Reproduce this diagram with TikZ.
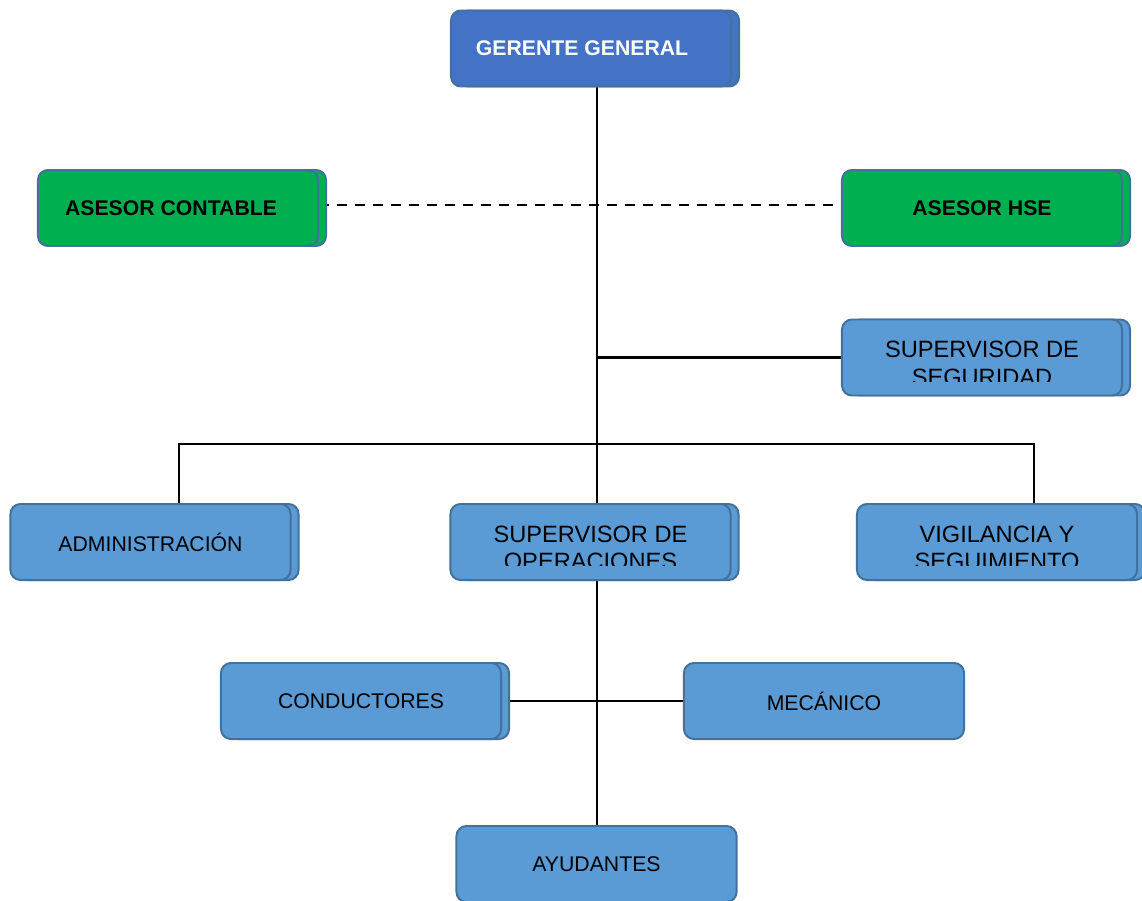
\documentclass[tikz,border=0pt]{standalone}
\usepackage{fontspec}
\setmainfont{Liberation Sans}
\usetikzlibrary{positioning,calc,shadows,backgrounds}
\definecolor{azulgg}{RGB}{68,114,196}
\definecolor{azulcl}{RGB}{91,155,213}
\definecolor{verdeas}{RGB}{0,176,80}
\definecolor{bordeaz}{RGB}{65,113,156}

\begin{document}
\begin{tikzpicture}[
  x=0.025cm, y=-0.025cm,
  cargo/.style={rectangle, rounded corners=0.25cm, draw=bordeaz, line width=1.4pt, fill=azulcl,
                minimum width=7cm, minimum height=1.9cm, inner sep=0pt,
                font=\fontsize{15.1}{17}\selectfont},
  doble/.style={copy shadow={shadow xshift=0.2cm, shadow yshift=0cm}},
  asesor/.style={fill=verdeas, font=\fontsize{15.1}{18}\selectfont\bfseries},
  dosl/.style={align=center, anchor=base, inner sep=0pt, font=\fontsize{16.8}{19.6}\selectfont},
  linea/.style={black, line width=1.5pt},
  punteada/.style={linea, dash pattern=on 0.25cm off 0.2cm}
]
  \useasboundingbox (0,0) rectangle (1142,900);

  % Gerencia y asesores
  \node[cargo, doble, fill=azulgg, text=white, font=\fontsize{15.1}{18}\selectfont\bfseries]
    (gerente) at (591,48.5) {GERENTE GENERAL\hspace*{0.45cm}};
  \node[cargo, doble, asesor] (contable) at (178,208) {ASESOR CONTABLE\hspace*{0.35cm}};
  \node[cargo, doble, asesor] (hse) at (982,208) {ASESOR HSE};

  % Segundo nivel
  \node[cargo, doble] (seguridad) at (982,357.5) {};
  \node[cargo, doble] (admin) at (150.5,542) {ADMINISTRACIÓN};
  \node[cargo, doble] (operaciones) at (590.5,542) {};
  \node[cargo, doble] (vigilancia) at (997,542) {};

  % Personal de operaciones
  \node[cargo, doble] (conductores) at (361,701) {CONDUCTORES};
  \node[cargo] (mecanico) at (824,701) {MECÁNICO};
  \node[cargo] (ayudantes) at (596.5,864) {AYUDANTES};

  % Textos cortados
  \begin{scope}
    \clip (seguridad.north west) rectangle ([yshift=0.375cm]seguridad.south east);
    \node[dosl] (seguridad-txt) at ([yshift=-19.6pt]seguridad.center) {SUPERVISOR DE\\SEGURIDAD};
  \end{scope}
  \begin{scope}
    \clip (operaciones.north west) rectangle ([yshift=0.375cm]operaciones.south east);
    \node[dosl] (operaciones-txt) at ([yshift=-19.6pt]operaciones.center) {SUPERVISOR DE\\OPERACIONES};
  \end{scope}
  \begin{scope}
    \clip (vigilancia.north west) rectangle ([yshift=0.375cm]vigilancia.south east);
    \node[dosl] (vigilancia-txt) at ([yshift=-19.6pt]vigilancia.center) {VIGILANCIA Y\\SEGUIMIENTO};
  \end{scope}

  % Lineas
  \begin{scope}[on background layer]
    \coordinate (cruce) at (597,444);
    \coordinate (ramaizq) at (179,444);
    \coordinate (ramader) at (1034,444);
    \draw[linea] (gerente.south -| cruce) -- (operaciones.north -| cruce);
    \draw[punteada] ([yshift=0.075cm]contable.east) -- ([yshift=0.075cm]hse.west);
    \draw[linea] (seguridad.west) -- (seguridad.west -| cruce);
    \draw[linea] (admin.north -| ramaizq) -- (ramaizq) -- (ramader) -- (vigilancia.north -| ramader);
    \draw[linea] (operaciones.south -| cruce) -- (ayudantes.north -| cruce);
    \draw[linea] (conductores.east) -- (mecanico.west);
  \end{scope}
\end{tikzpicture}
\end{document}
